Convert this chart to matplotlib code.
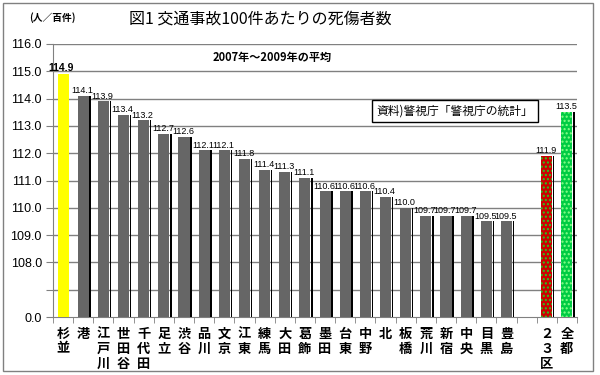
import numpy as np
from matplotlib import pyplot as plt
from matplotlib.patches import Rectangle

plt.rcParams['font.family'] = ['Noto Sans CJK JP', 'DejaVu Sans']

WARDS = ['杉並', '港', '江戸川', '世田谷', '千代田', '足立', '渋谷', '品川', '文京', '江東',
         '練馬', '大田', '葛飾', '墨田', '台東', '中野', '北', '板橋', '荒川', '新宿',
         '中央', '目黒', '豊島']
WARD_VALUES = [114.9, 114.1, 113.9, 113.4, 113.2, 112.7, 112.6, 112.1, 112.1, 111.8,
               111.4, 111.3, 111.1, 110.6, 110.6, 110.6, 110.4, 110.0, 109.7, 109.7,
               109.7, 109.5, 109.5]
TOTALS = ['２３区', '全都']
TOTAL_VALUES = [111.9, 113.5]

Y_TICKS = [0, 107, 108, 109, 110, 111, 112, 113, 114, 115, 116]
Y_LABELS = ['0.0', '', '108.0', '109.0', '110.0', '111.0', '112.0', '113.0', '114.0', '115.0', '116.0']

NUM_FONT = 'Liberation Sans'


def forward(v):
    v = np.asarray(v, dtype=float)
    return np.where(v >= 107, v - 106, v / 107)


def inverse(p):
    p = np.asarray(p, dtype=float)
    return np.where(p >= 1, p + 106, p * 107)


def main() -> None:
    fig = plt.figure(figsize=(6, 3.75), dpi=100)
    ax = fig.add_axes([53 / 600, 58 / 375, 524 / 600, 273 / 375])
    ax.set_yscale('function', functions=(forward, inverse))

    names = WARDS + [''] + TOTALS
    values = WARD_VALUES + [np.nan] + TOTAL_VALUES
    x = np.arange(len(names))
    width = 0.55

    for i, (name, v) in enumerate(zip(names, values)):
        if np.isnan(v):
            continue
        if i == 0:
            ax.bar(i, v, width, color='#ffff00', zorder=3)
            ax.text(i - 0.1, v + 0.02, f'{v:.1f}', ha='center', va='bottom', fontsize=7.5,
                    fontweight='bold', family=NUM_FONT)
            continue
        # thin dark shadow line on the right of each bar
        ax.bar(i + width / 2 + 0.07, v, 0.07, color='black', zorder=3)
        if name == '２３区':
            ax.bar(i, v, width, color='#cc0000', hatch='....', edgecolor='#22cc22',
                   linewidth=0, zorder=3)
        elif name == '全都':
            ax.bar(i, v, width, color='#00cc44', hatch='....', edgecolor='#88ff88',
                   linewidth=0, zorder=3)
        else:
            ax.bar(i, v, width, color='#666666', zorder=3)
        ax.text(i - 0.05, v + 0.03, f'{v:.1f}', ha='center', va='bottom', fontsize=6.5,
                family=NUM_FONT)

    ax.set_xlim(-0.5, len(names) - 0.5)
    ax.set_ylim(0, 116)
    ax.set_yticks(Y_TICKS)
    ax.set_yticklabels(Y_LABELS, family=NUM_FONT, fontsize=9)
    for y in Y_TICKS[1:]:
        ax.axhline(y, color='#808080', linewidth=1, zorder=1)

    ax.set_xticks(x)
    ax.set_xticklabels(['\n'.join(n) for n in names], fontsize=9.5, fontweight='bold',
                       linespacing=1.1, va='top')
    ax.tick_params(axis='x', length=0, pad=7)
    ax.set_xticks(np.arange(-0.5, len(names)), minor=True)
    ax.tick_params(axis='x', which='minor', length=4, color='#808080')
    ax.tick_params(axis='y', length=5, color='#808080', pad=3)

    for side in ('top', 'right'):
        ax.spines[side].set_visible(False)
    for side in ('left', 'bottom'):
        ax.spines[side].set_color('#808080')

    fig.text(260 / 600, 356 / 375, '図1 交通事故100件あたりの死傷者数', ha='center', va='center',
             fontsize=11.5)
    fig.text(52 / 600, 357 / 375, '(人／百件)', ha='center', va='center', fontsize=7,
             fontweight='bold')
    fig.text(272 / 600, 318 / 375, '2007年～2009年の平均', ha='center', va='center',
             fontsize=8, fontweight='bold')
    fig.text(455 / 600, 264 / 375, '資料)警視庁「警視庁の統計」', ha='center', va='center',
             fontsize=8.5, bbox=dict(boxstyle='square,pad=0.35', facecolor='white',
                                     edgecolor='black', linewidth=1))

    fig.patches.append(Rectangle((3 / 600, 4 / 375), 590 / 600, 368 / 375,
                                 transform=fig.transFigure, fill=False,
                                 edgecolor='#808080', linewidth=1))

    fig.savefig('out.png', dpi=100)


if __name__ == '__main__':
    main()
